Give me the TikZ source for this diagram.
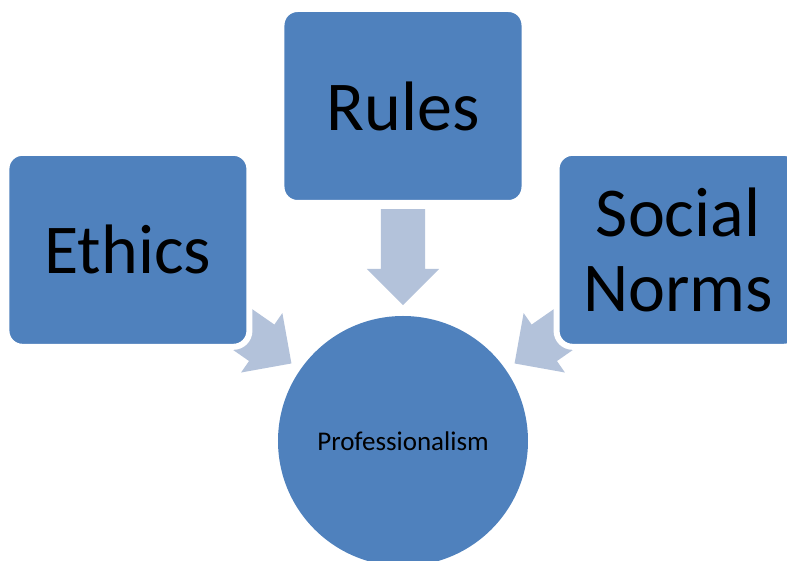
\documentclass[tikz,border=0pt]{standalone}
\usepackage{fontspec}
\setmainfont{Carlito}
\usepackage{tikz}
\usetikzlibrary{shapes.arrows,backgrounds}
\definecolor{Accent}{HTML}{4F81BD}
\definecolor{Pale}{HTML}{B3C2DA}

\begin{document}
\begin{tikzpicture}[x=1pt,y=1pt,
    box/.style={fill=Accent,draw=white,line width=6pt,rounded corners=16pt,minimum width=243pt,minimum height=194pt,align=center,font=\fontsize{70}{75}\selectfont},
    hub/.style={circle,fill=Accent,minimum size=250pt,font=\fontsize{27}{31}\selectfont},
    arr/.style={single arrow,fill=Pale,draw=none,inner xsep=0pt,inner ysep=22pt,minimum height=96pt,single arrow head extend=14pt,sloped,allow upside down,pos=0.418}]
    \useasboundingbox (-403,-120) rectangle (384,441);
    \node[hub] (p) at (0,0) {Professionalism};
    \node[box] (r) at (90:335) {Rules};
    \node[box] (e) at (145.2:335) {Ethics};
    \node[box] (s) at (34.8:335) {Social\\Norms};
    % block arrows sit under the boxes
    \begin{scope}[on background layer]
    \path (r.center) -- (p.center) node[arr] {};
    \path (e.center) -- (p.center) node[arr] {};
    \path (s.center) -- (p.center) node[arr] {};
    \end{scope}
  \end{tikzpicture}
\end{document}
